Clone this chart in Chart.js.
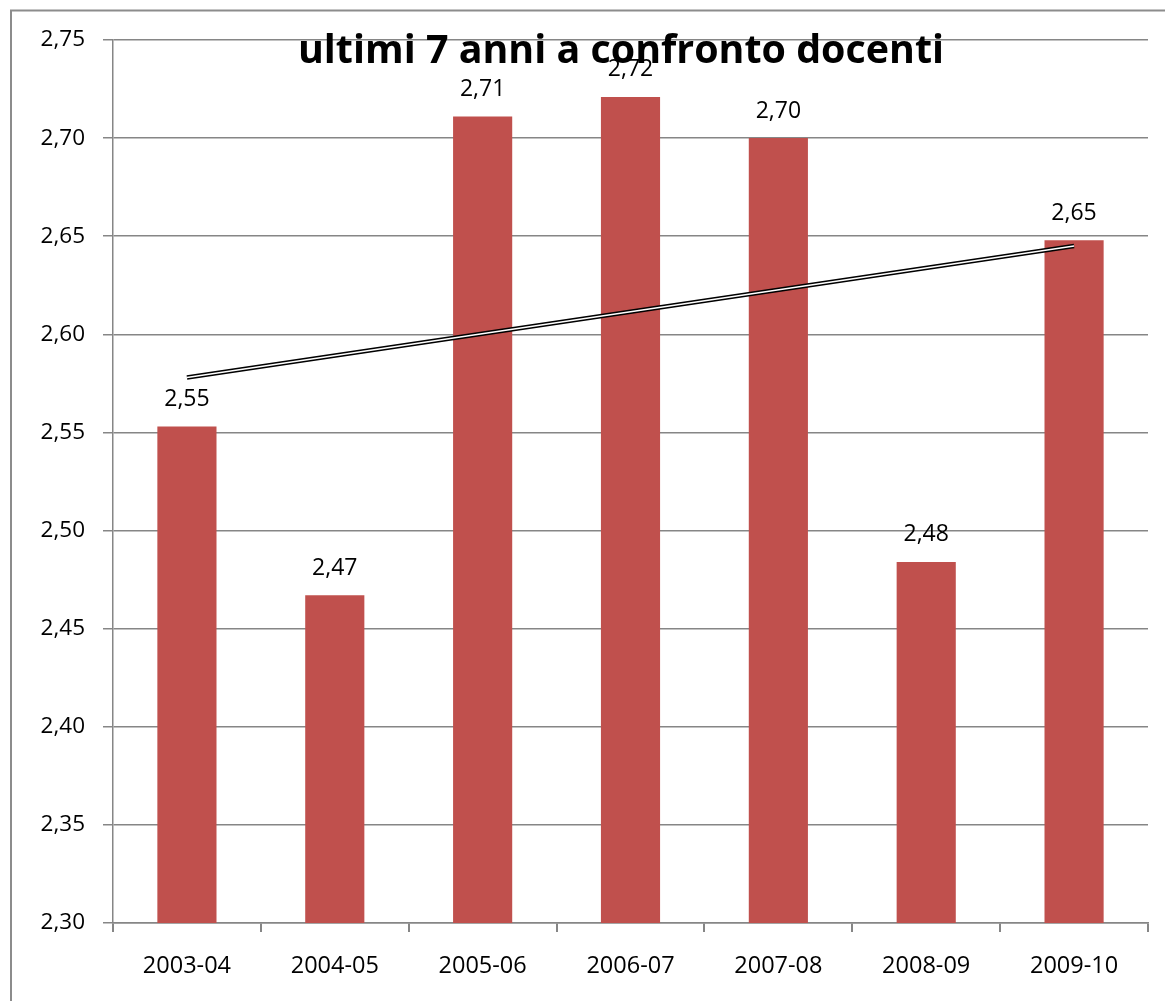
<!DOCTYPE html>
<html>
<head>
<meta charset="utf-8">
<script src="https://cdn.jsdelivr.net/npm/chart.js@4.4.1/dist/chart.umd.min.js"></script>
<style>
  body { margin: 0; background: #fff; }
  canvas { display: block; }
</style>
</head>
<body>
<canvas id="docentiChart" width="1165" height="1001"></canvas>
<script>
const chartTitle = "ultimi 7 anni a confronto docenti";
const years = ["2003-04", "2004-05", "2005-06", "2006-07", "2007-08", "2008-09", "2009-10"];
const averages = [2.553, 2.467, 2.711, 2.721, 2.700, 2.484, 2.648];
// trend line end points (first and last year)
const trendValues = [2.578, null, null, null, null, null, 2.645];
const yMin = 2.30;
const yMax = 2.75;
const yStep = 0.05;

const fmt = (v) => v.toFixed(2).replace(".", ",");

// outer frame of the chart object
const framePlugin = {
  id: "frame",
  beforeDraw(chart) {
    const ctx = chart.ctx;
    ctx.save();
    ctx.fillStyle = "#fff";
    ctx.fillRect(0, 0, chart.width, chart.height);
    ctx.strokeStyle = "#8c8c8c";
    ctx.lineWidth = 2;
    ctx.beginPath();
    ctx.moveTo(11, chart.height + 5);
    ctx.lineTo(11, 10.5);
    ctx.lineTo(chart.width + 5, 10.5);
    ctx.stroke();
    ctx.restore();
  }
};

// value labels above the bars
const barLabelsPlugin = {
  id: "barLabels",
  afterDatasetsDraw(chart) {
    const ctx = chart.ctx;
    const meta = chart.getDatasetMeta(0);
    ctx.save();
    ctx.font = "23px 'Open Sans'";
    ctx.fillStyle = "#000";
    ctx.textAlign = "center";
    ctx.textBaseline = "middle";
    meta.data.forEach((bar, i) => {
      ctx.fillText(fmt(averages[i]), bar.x, bar.y - 27);
    });
    ctx.restore();
  }
};

// title drawn over the plot, like the original
const titlePlugin = {
  id: "overTitle",
  afterDraw(chart) {
    const ctx = chart.ctx;
    ctx.save();
    ctx.font = "bold 40px 'Open Sans'";
    const w = ctx.measureText(chartTitle).width;
    const size = 40 * 647 / w;
    ctx.font = "bold " + size.toFixed(1) + "px 'Open Sans'";
    ctx.fillStyle = "#000";
    ctx.textAlign = "center";
    ctx.textBaseline = "alphabetic";
    ctx.fillText(chartTitle, 621, 63);
    ctx.restore();
  }
};

const ctx = document.getElementById("docentiChart").getContext("2d");
new Chart(ctx, {
  type: "bar",
  data: {
    labels: years,
    datasets: [
      {
        label: "docenti",
        data: averages,
        backgroundColor: "#C0504D",
        barPercentage: 0.4,
        categoryPercentage: 1.0,
        order: 3
      },
      {
        type: "line",
        label: "tendenza",
        data: trendValues,
        borderColor: "#000",
        borderWidth: 4.5,
        pointRadius: 0,
        spanGaps: true,
        order: 2
      },
      {
        type: "line",
        label: "tendenza interno",
        data: trendValues,
        borderColor: "#fff",
        borderWidth: 1.5,
        pointRadius: 0,
        spanGaps: true,
        order: 1
      }
    ]
  },
  options: {
    responsive: false,
    animation: false,
    layout: { padding: { left: 0, top: 40, right: 17, bottom: 0 } },
    plugins: {
      legend: { display: false },
      title: { display: false },
      tooltip: { enabled: false }
    },
    scales: {
      x: {
        grid: {
          drawOnChartArea: false,
          drawTicks: true,
          tickLength: 9,
          color: "#868686",
          lineWidth: 2
        },
        border: { color: "#868686", width: 1.5 },
        ticks: {
          color: "#000",
          font: { family: "'Open Sans'", size: 23.5 },
          padding: 20,
          maxRotation: 0
        },
        afterFit(scale) { scale.height = 78; }
      },
      y: {
        min: yMin,
        max: yMax,
        grid: {
          color: "#868686",
          lineWidth: 1.5,
          tickLength: 10
        },
        border: { color: "#868686", width: 1.5 },
        ticks: {
          stepSize: yStep,
          color: "#000",
          font: { family: "'Open Sans'", size: 22.5 },
          padding: 18,
          callback: (v) => fmt(v)
        },
        afterFit(scale) { scale.width = 113; }
      }
    }
  },
  plugins: [framePlugin, barLabelsPlugin, titlePlugin]
});
</script>
</body>
</html>
